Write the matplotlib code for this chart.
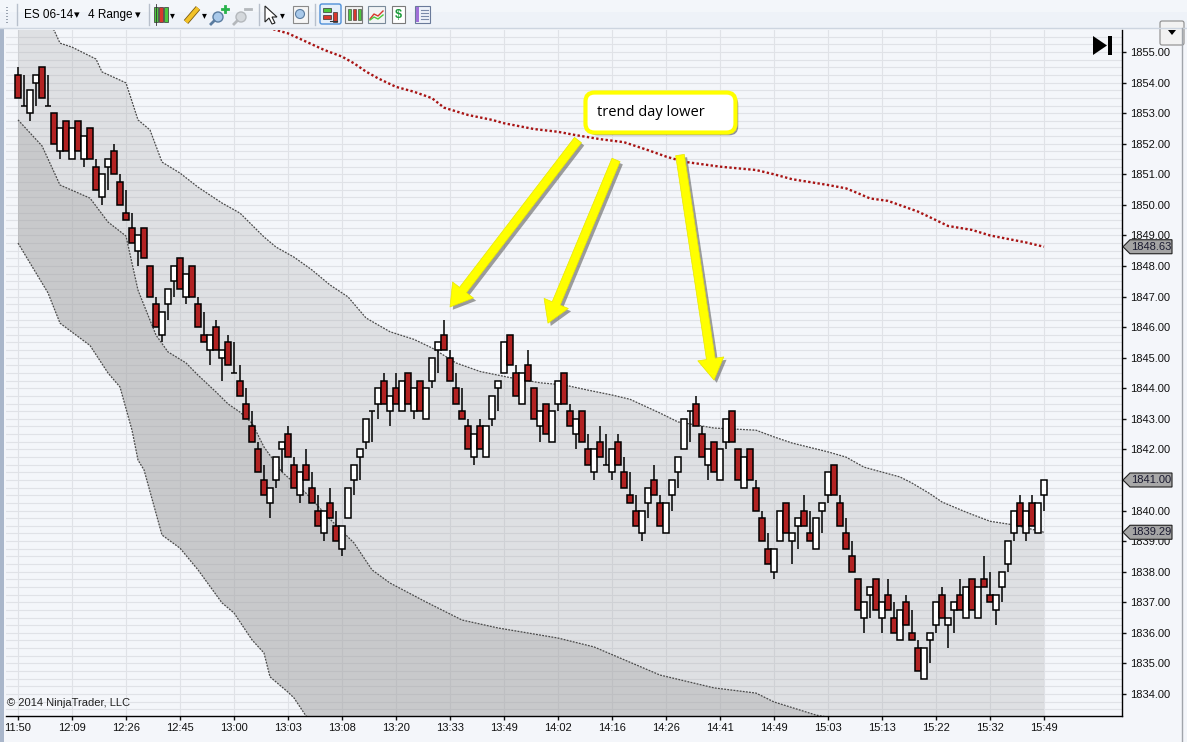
import numpy as np
import matplotlib
matplotlib.use("Agg")
import matplotlib.pyplot as plt
import matplotlib.patheffects as pe
from matplotlib.patches import Rectangle, Polygon, FancyBboxPatch, Circle
from matplotlib.lines import Line2D
from matplotlib.ticker import MultipleLocator, FormatStrFormatter
from matplotlib.transforms import IdentityTransform

plt.rcParams['font.family'] = ['Liberation Sans', 'DejaVu Sans']

# ES 06-14, 4 Range bars
time_labels = ["11:50", "12:09", "12:26", "12:45", "13:00", "13:03", "13:08", "13:20",
               "13:33", "13:49", "14:02", "14:16", "14:26", "14:41", "14:49", "15:03",
               "15:13", "15:22", "15:32", "15:49"]

opens = [1854.25, 1853.25, 1853.0, 1854.0, 1854.5, 1853.25, 1853.0, 1851.75, 1852.75, 1851.5,
         1852.75, 1851.5, 1852.5, 1851.25, 1850.25, 1851.25, 1851.75, 1850.75, 1849.75, 1849.25,
         1848.5, 1849.25, 1848.0, 1846.75, 1845.75, 1846.75, 1847.5, 1848.25, 1847.0, 1848.0,
         1846.75, 1845.75, 1845.25, 1846.0, 1845.0, 1845.5, 1844.5, 1844.25, 1843.5, 1842.75,
         1842.0, 1841.0, 1840.25, 1841.0, 1842.0, 1842.5, 1841.5, 1840.5, 1841.5, 1840.75,
         1840.0, 1839.25, 1840.25, 1839.5, 1838.75, 1839.75, 1841.0, 1841.75, 1842.25, 1843.25,
         1843.5, 1844.25, 1843.25, 1844.0, 1843.25, 1844.5, 1843.25, 1844.25, 1843.0, 1844.25,
         1845.25, 1845.75, 1845.0, 1844.0, 1843.25, 1842.75, 1841.75, 1842.75, 1841.75, 1843.0,
         1844.0, 1844.5, 1845.75, 1844.5, 1843.5, 1844.75, 1844.0, 1842.75, 1843.5, 1842.25,
         1843.5, 1844.5, 1843.25, 1842.5, 1843.25, 1842.0, 1841.25, 1842.25, 1841.5, 1841.25,
         1842.25, 1841.25, 1840.5, 1840.0, 1839.25, 1840.25, 1841.0, 1840.25, 1839.25, 1840.5,
         1841.25, 1842.0, 1843.25, 1843.5, 1842.5, 1841.5, 1842.25, 1841.0, 1842.25, 1843.25,
         1842.0, 1840.75, 1842.0, 1840.75, 1839.75, 1838.75, 1838.0, 1839.0, 1840.25, 1839.0,
         1839.5, 1840.0, 1839.25, 1838.75, 1840.0, 1840.5, 1841.5, 1840.25, 1839.25, 1838.5,
         1837.75, 1836.5, 1837.25, 1837.75, 1836.5, 1837.25, 1836.5, 1835.75, 1837.0, 1836.0,
         1835.5, 1834.5, 1835.75, 1836.25, 1837.25, 1836.25, 1836.75, 1837.25, 1836.5, 1837.75,
         1836.5, 1837.75, 1837.25, 1836.75, 1837.5, 1838.25, 1839.25, 1840.25, 1839.25, 1840.25,
         1839.25, 1840.5]
highs = [1854.5, 1854.25, 1853.75, 1854.25, 1854.5, 1854.25, 1853.0, 1852.5, 1852.75, 1852.5,
         1852.75, 1852.25, 1852.5, 1851.5, 1851.0, 1851.5, 1852.0, 1851.0, 1850.5, 1849.75,
         1849.0, 1849.25, 1848.0, 1847.0, 1846.5, 1847.25, 1848.0, 1848.25, 1847.75, 1848.0,
         1847.0, 1846.5, 1845.75, 1846.25, 1845.25, 1845.75, 1845.5, 1844.75, 1844.0, 1843.25,
         1842.25, 1841.5, 1840.75, 1841.75, 1842.25, 1842.75, 1841.75, 1841.25, 1842.0, 1841.25,
         1840.5, 1840.0, 1840.75, 1840.0, 1839.5, 1840.75, 1841.5, 1842.0, 1843.0, 1843.25,
         1844.0, 1844.5, 1843.75, 1844.5, 1844.25, 1844.5, 1844.0, 1844.25, 1844.0, 1845.0,
         1845.5, 1846.25, 1845.25, 1844.5, 1844.0, 1843.0, 1842.5, 1843.0, 1842.75, 1843.75,
         1844.25, 1845.5, 1845.75, 1844.75, 1844.5, 1845.25, 1844.0, 1843.25, 1843.5, 1843.25,
         1844.25, 1844.5, 1843.5, 1843.0, 1843.25, 1842.5, 1842.0, 1842.75, 1842.5, 1842.0,
         1842.5, 1841.75, 1841.25, 1840.5, 1840.0, 1840.75, 1841.5, 1840.5, 1840.25, 1841.0,
         1841.75, 1843.0, 1843.25, 1843.75, 1842.75, 1842.0, 1842.25, 1842.0, 1843.0, 1843.25,
         1842.0, 1841.75, 1842.0, 1841.0, 1840.0, 1839.25, 1838.75, 1840.0, 1840.25, 1839.25,
         1839.75, 1840.5, 1840.0, 1839.75, 1840.25, 1841.25, 1841.5, 1840.5, 1839.75, 1839.0,
         1837.75, 1837.0, 1837.5, 1837.75, 1837.0, 1837.75, 1837.0, 1836.75, 1837.25, 1836.75,
         1835.75, 1835.5, 1836.0, 1837.0, 1837.5, 1836.5, 1837.0, 1837.75, 1837.5, 1837.75,
         1837.5, 1838.5, 1838.0, 1837.25, 1838.0, 1839.0, 1840.0, 1840.5, 1840.0, 1840.5,
         1840.25, 1841.0]
lows = [1853.5, 1853.25, 1852.75, 1853.25, 1853.5, 1853.25, 1852.0, 1851.5, 1851.75, 1851.5,
        1851.75, 1851.25, 1851.5, 1850.5, 1850.0, 1850.5, 1851.0, 1850.0, 1849.5, 1848.75,
        1848.0, 1848.25, 1847.0, 1846.0, 1845.5, 1846.25, 1847.0, 1847.25, 1846.75, 1847.0,
        1846.0, 1845.5, 1844.75, 1845.25, 1844.25, 1844.75, 1844.5, 1843.75, 1843.0, 1842.25,
        1841.25, 1840.5, 1839.75, 1840.75, 1841.25, 1841.75, 1840.75, 1840.25, 1841.0, 1840.25,
        1839.5, 1839.0, 1839.75, 1839.0, 1838.5, 1839.75, 1840.5, 1841.0, 1842.0, 1842.25,
        1843.0, 1843.5, 1842.75, 1843.5, 1843.25, 1843.5, 1843.0, 1843.25, 1843.0, 1844.0,
        1844.5, 1845.25, 1844.25, 1843.5, 1843.0, 1842.0, 1841.5, 1842.0, 1841.75, 1842.75,
        1843.25, 1844.5, 1844.75, 1843.75, 1843.5, 1844.25, 1843.0, 1842.25, 1842.5, 1842.25,
        1843.25, 1843.5, 1842.75, 1842.0, 1842.25, 1841.5, 1841.0, 1841.75, 1841.5, 1841.0,
        1841.5, 1840.75, 1840.25, 1839.5, 1839.0, 1839.75, 1840.5, 1839.5, 1839.25, 1840.0,
        1840.75, 1842.0, 1842.25, 1842.75, 1841.75, 1841.0, 1841.25, 1841.0, 1842.0, 1842.25,
        1841.0, 1840.75, 1841.0, 1840.0, 1839.0, 1838.25, 1837.75, 1839.0, 1839.25, 1838.25,
        1838.75, 1839.5, 1839.0, 1838.75, 1839.25, 1840.25, 1840.5, 1839.5, 1838.75, 1838.0,
        1836.75, 1836.0, 1836.5, 1836.75, 1836.0, 1836.75, 1836.0, 1835.75, 1836.25, 1835.75,
        1834.75, 1834.5, 1835.0, 1836.0, 1836.5, 1835.5, 1836.0, 1836.75, 1836.5, 1836.75,
        1836.5, 1837.5, 1837.0, 1836.25, 1837.0, 1838.0, 1839.0, 1839.5, 1839.0, 1839.5,
        1839.25, 1840.0]
closes = [1853.5, 1853.25, 1853.75, 1854.25, 1853.5, 1853.25, 1852.0, 1852.5, 1851.75, 1852.5,
          1851.75, 1852.25, 1851.5, 1850.5, 1851.0, 1851.5, 1851.0, 1850.0, 1849.5, 1848.75,
          1849.0, 1848.25, 1847.0, 1846.0, 1846.5, 1847.25, 1848.0, 1847.25, 1847.75, 1847.0,
          1846.0, 1845.5, 1845.75, 1845.25, 1845.25, 1844.75, 1844.5, 1843.75, 1843.0, 1842.25,
          1841.25, 1840.5, 1840.75, 1841.75, 1842.25, 1841.75, 1840.75, 1841.25, 1841.0, 1840.25,
          1839.5, 1840.0, 1839.75, 1839.0, 1839.5, 1840.75, 1841.5, 1842.0, 1843.0, 1843.25,
          1844.0, 1843.5, 1843.75, 1843.5, 1844.25, 1843.5, 1844.0, 1843.25, 1844.0, 1845.0,
          1845.5, 1845.25, 1844.25, 1843.5, 1843.0, 1842.0, 1842.5, 1842.0, 1842.75, 1843.75,
          1844.25, 1845.5, 1844.75, 1843.75, 1844.5, 1844.25, 1843.0, 1843.25, 1842.5, 1843.25,
          1844.25, 1843.5, 1842.75, 1843.0, 1842.25, 1841.5, 1842.0, 1841.75, 1841.5, 1842.0,
          1841.5, 1840.75, 1840.25, 1839.5, 1840.0, 1840.75, 1840.5, 1839.5, 1840.25, 1841.0,
          1841.75, 1843.0, 1843.25, 1842.75, 1841.75, 1842.0, 1841.25, 1842.0, 1843.0, 1842.25,
          1841.0, 1841.75, 1841.0, 1840.0, 1839.0, 1838.25, 1838.75, 1840.0, 1839.25, 1839.25,
          1839.75, 1839.5, 1839.0, 1839.75, 1840.25, 1841.25, 1840.5, 1839.5, 1838.75, 1838.0,
          1836.75, 1837.0, 1837.5, 1836.75, 1837.0, 1836.75, 1836.0, 1836.75, 1836.25, 1835.75,
          1834.75, 1835.5, 1836.0, 1837.0, 1836.5, 1836.5, 1837.0, 1836.75, 1837.5, 1836.75,
          1837.5, 1837.5, 1837.0, 1837.25, 1838.0, 1839.0, 1840.0, 1839.5, 1840.0, 1839.5,
          1840.25, 1841.0]

# VWAP and the lower deviation bands (bar index, price)
vwap_x = [38, 43, 45, 48, 51, 54, 56, 58, 60, 63, 66, 69, 71, 75, 79, 81, 86, 90, 93, 97, 101,
          105, 108, 111, 117, 123, 126, 129, 135, 138, 140, 142, 145, 147, 150, 153, 155, 159,
          162, 168, 171]
vwap = [1856.0, 1855.72, 1855.61, 1855.34, 1855.07, 1854.85, 1854.63, 1854.36, 1854.14, 1853.86,
        1853.70, 1853.49, 1853.18, 1852.94, 1852.78, 1852.67, 1852.48, 1852.39, 1852.28, 1852.15,
        1852.05, 1851.79, 1851.58, 1851.41, 1851.25, 1851.14, 1851.00, 1850.84, 1850.65, 1850.54,
        1850.38, 1850.21, 1850.13, 1849.99, 1849.78, 1849.50, 1849.31, 1849.18, 1849.00, 1848.77,
        1848.63]

band1_x = [0, 3, 6, 7, 9, 13, 14, 18, 20, 22, 24, 27, 30, 34, 37, 41, 43, 46, 49, 52, 55, 58,
           62, 66, 69, 73, 77, 82, 87, 91, 95, 99, 102, 107, 110, 116, 123, 126, 129, 135, 138,
           141, 144, 147, 149, 152, 154, 158, 162, 166, 171]
band1 = [1856.4, 1856.0, 1855.72, 1855.29, 1855.16, 1854.77, 1854.35, 1853.99, 1852.78, 1852.45,
         1851.40, 1851.04, 1850.58, 1850.06, 1849.73, 1848.95, 1848.62, 1848.29, 1847.87, 1847.38,
         1846.99, 1846.30, 1845.85, 1845.60, 1845.32, 1844.83, 1844.55, 1844.35, 1844.18, 1844.11,
         1843.94, 1843.78, 1843.64, 1843.19, 1842.90, 1842.70, 1842.63, 1842.41, 1842.21, 1841.92,
         1841.75, 1841.42, 1841.26, 1841.10, 1840.90, 1840.55, 1840.28, 1839.95, 1839.65, 1839.53,
         1839.29]

band2_x = [0, 4, 7, 12, 15, 18, 20, 23, 25, 28, 30, 33, 35, 37, 39, 41, 44, 48, 52, 56, 59, 62,
           68, 74, 80, 90, 96, 107, 116, 123, 126, 133, 145, 158, 171]
band2 = [1852.78, 1851.93, 1850.65, 1850.22, 1849.44, 1848.98, 1847.21, 1845.74, 1845.19, 1844.83,
         1844.43, 1843.88, 1843.49, 1843.22, 1842.86, 1842.08, 1841.26, 1840.57, 1839.72, 1838.94,
         1838.06, 1837.63, 1837.01, 1836.42, 1836.16, 1835.83, 1835.54, 1834.62, 1834.20, 1834.03,
         1833.74, 1833.31, 1832.9, 1832.5, 1832.2]

band3_x = [0, 5, 7, 12, 15, 17, 19, 20, 21, 24, 27, 30, 34, 36, 39, 41, 42, 45, 46, 48, 60, 80,
           120, 171]
band3 = [1848.75, 1847.12, 1846.13, 1845.40, 1844.50, 1844.04, 1842.63, 1841.65, 1841.33, 1839.20,
         1838.77, 1838.06, 1836.98, 1836.65, 1835.77, 1835.34, 1834.56, 1834.06, 1833.87, 1833.28,
         1831.6, 1830.2, 1829.0, 1827.8]

W, H = 1187, 742
BG = '#f4f6fa'
GRID = '#e0e2e7'
DOWN = '#b22222'

fig = plt.figure(figsize=(W / 100, H / 100), dpi=100, facecolor=BG)
ax = fig.add_axes([6 / W, 26 / H, 1116 / W, 686 / H])
ax.set_facecolor(BG)
ax.set_xlim(-2, 184)
ax.set_ylim(1833.28, 1855.72)

# grid
ax.set_axisbelow(True)
ax.yaxis.set_major_locator(MultipleLocator(1.0))
ax.yaxis.set_minor_locator(MultipleLocator(0.25))
ax.yaxis.set_major_formatter(FormatStrFormatter('%.2f'))
ax.grid(which='both', axis='y', color=GRID, lw=0.8)
ax.grid(which='major', axis='x', color=GRID, lw=0.8)

# bands
light = np.concatenate([np.column_stack([band1_x, band1]),
                        np.column_stack([band2_x, band2])[::-1]])
dark = np.concatenate([np.column_stack([band2_x, band2]),
                       np.column_stack([band3_x, band3])[::-1]])
ax.add_patch(Polygon(light, closed=True, fc='#a0a0a0', alpha=0.25, ec='none', zorder=1))
ax.add_patch(Polygon(dark, closed=True, fc='#a0a0a0', alpha=0.52, ec='none', zorder=1))
for bx, by in [(band1_x, band1), (band2_x, band2), (band3_x, band3)]:
    ax.plot(bx, by, color='#4a4a4a', lw=0.9, ls=(0, (1.5, 1)), zorder=2)

ax.plot(vwap_x, vwap, color='#a81414', lw=1.7, ls=(0, (1, 1)), zorder=2)

# candles
x = np.arange(len(opens))
o = np.array(opens)
c = np.array(closes)
ax.vlines(x, lows, highs, color='black', lw=1.1, zorder=3)
ax.bar(x, c - o, bottom=o, width=0.85, color=np.where(c >= o, 'white', DOWN),
       edgecolor='black', linewidth=1.1, zorder=4)

# axes
ax.set_xticks(np.arange(0, len(opens), 9))
ax.set_xticklabels(time_labels)
ax.yaxis.tick_right()
ax.tick_params(axis='x', direction='out', length=3, width=1, pad=2, labelsize=8, colors='#111111')
ax.tick_params(axis='y', which='major', direction='out', length=3, width=1, pad=3, labelsize=8,
               colors='#111111')
ax.tick_params(axis='y', which='minor', length=0)
for s in ['left', 'top']:
    ax.spines[s].set_visible(False)
for s in ['right', 'bottom']:
    ax.spines[s].set_color('black')
    ax.spines[s].set_linewidth(1.0)

ax.text(0.001, 0.012, '\u00a9 2014 NinjaTrader, LLC', transform=ax.transAxes, fontsize=8,
        color='#222222', ha='left', va='bottom')

# annotation
fig.canvas.draw()
T = IdentityTransform()
cx, cy = ax.transData.transform((107.08, 1853.02))
box = FancyBboxPatch((cx - 75, cy - 20), 150, 40, boxstyle='round,pad=0,rounding_size=9',
                     transform=T, fc='white', ec='#ffff00', lw=3.0, zorder=8)
box.set_path_effects([pe.SimplePatchShadow(offset=(2, -2), shadow_rgbFace='#555555', alpha=0.6),
                      pe.Normal()])
ax.add_patch(box)
ax.text(105.5, 1853.02, 'trend day lower', ha='center', va='center', fontsize=10.5,
        family=['Open Sans', 'DejaVu Sans'], color='black', zorder=9)

arrows = [((93.33, 1852.12), (72.0, 1846.66)),
          ((99.67, 1851.47), (88.33, 1846.13)),
          ((110.33, 1851.63), (116.0, 1844.27))]
for start, tip in arrows:
    ann = ax.annotate('', xy=tip, xytext=start, zorder=7,
                      arrowprops=dict(arrowstyle='simple,head_length=1.1,head_width=1.35,tail_width=0.45',
                                      fc='#ffff00', ec='#e8e800', lw=0.5, mutation_scale=14,
                                      shrinkA=0, shrinkB=0))
    ann.arrow_patch.set_path_effects([pe.SimplePatchShadow(offset=(2, -2), shadow_rgbFace='#606060',
                                                           alpha=0.6), pe.Normal()])


# price markers on the right axis
def price_marker(value, face):
    yd = ax.transData.transform((0, value))[1]
    pts = [(1123, yd), (1130, yd + 7), (1172, yd + 7), (1172, yd - 7), (1130, yd - 7)]
    fig.add_artist(Polygon(pts, closed=True, transform=T, fc=face, ec='#202020', lw=0.8, zorder=10))
    fig.text(1131, yd, f'{value:.2f}', transform=T, fontsize=8, color='#1a1a30', ha='left',
             va='center', zorder=11)


price_marker(vwap[-1], '#a4a4a4')
price_marker(band1[-1], '#a4a4a4')
price_marker(closes[-1], '#a8a8a8')


# ---- window chrome (pixel coordinates, y from top) ----
def rect(x0, y0, x1, y1, **kw):
    fig.add_artist(Rectangle((x0, H - y1), x1 - x0, y1 - y0, transform=T, **kw))


def line(xs, ys, **kw):
    fig.add_artist(Line2D(xs, [H - v for v in ys], transform=T, **kw))


def label(xp, yp, s, **kw):
    fig.text(xp, H - yp, s, transform=T, va='center', **kw)


rect(0, 0, W, 28, fc='#eef2f8', ec='none')
rect(0, 0, W, 12, fc='#f3f6fa', ec='none')
line([0, W], [28, 28], color='#cdd5e0', lw=1)
rect(0, 28, 4, H, fc='#a9b6ca', ec='none')
line([1182, 1182], [28, H], color='#a0a4aa', lw=1)

for yy in range(7, 24, 3):
    rect(6, yy, 8, yy + 1, fc='#9aa3b0', ec='none')
for sx in [17, 149, 259, 315]:
    line([sx, sx], [4, 25], color='#b8c0cc', lw=1)

label(24, 15, 'ES 06-14', fontsize=8.5, color='black')
label(74, 15, '\u25be', fontsize=8, color='black', family='DejaVu Sans')
label(88, 15, '4 Range', fontsize=8.5, color='black')
label(135, 15, '\u25be', fontsize=8, color='black', family='DejaVu Sans')

# candle style icon
for xx, col in [(154, '#4cc83c'), (159, '#d8382c'), (164, '#4cc83c')]:
    rect(xx, 7, xx + 4, 22, fc=col, ec='#333333', lw=0.5)
line([156, 156], [4, 25], color='#333333', lw=0.6)
label(170, 15, '\u25be', fontsize=7, color='black', family='DejaVu Sans')
# pencil
line([186, 198], [22, 8], color='#7a5a10', lw=4.2, solid_capstyle='butt')
line([186, 198], [22, 8], color='#f2c227', lw=3.0, solid_capstyle='butt')
label(202, 15, '\u25be', fontsize=7, color='black', family='DejaVu Sans')
# zoom in / out
fig.add_artist(Circle((218, H - 17), 5, transform=T, fc='#a9c9ea', ec='#5a7ca0', lw=1))
line([214, 211], [21, 24], color='#5a7ca0', lw=2)
line([222, 228], [9, 9], color='#27b24a', lw=2)
line([225, 225], [6, 12], color='#27b24a', lw=2)
fig.add_artist(Circle((241, H - 17), 5, transform=T, fc='#d4d8dc', ec='#b4b8bc', lw=1))
line([237, 234], [21, 24], color='#b4b8bc', lw=2)
line([245, 251], [9, 9], color='#b4b8bc', lw=2)
# pointer
fig.add_artist(Polygon([(265, H - 6), (265, H - 22), (269, H - 18), (272, H - 24), (275, H - 23),
                        (272, H - 17), (277, H - 17)], closed=True, transform=T,
                       fc='white', ec='#222222', lw=0.8))
label(280, 15, '\u25be', fontsize=7, color='black', family='DejaVu Sans')
# magnifier
rect(293, 6, 308, 23, fc='#f6f6f6', ec='#8a8a8a', lw=0.8)
fig.add_artist(Circle((300, H - 14), 4.5, transform=T, fc='#a9c9ea', ec='#5a7ca0', lw=0.8))
# highlighted button
fig.add_artist(FancyBboxPatch((320, H - 24), 21, 20, boxstyle='round,pad=0,rounding_size=2',
                              transform=T, fc='#e6effa', ec='#4f90d8', lw=1))
rect(323, 8, 331, 12, fc='#4cc83c', ec='#333333', lw=0.5)
rect(323, 15, 331, 19, fc='#d8382c', ec='#333333', lw=0.5)
rect(333, 12, 337, 22, fc='#d8382c', ec='#333333', lw=0.5)
line([330, 337], [21, 21], color='#333333', lw=0.8)
# bars icon
rect(345, 6, 362, 23, fc='#f2f2f2', ec='#7a7a7a', lw=0.8)
for xx, col in [(348, '#4cc83c'), (353, '#d8382c'), (358, '#4cc83c')]:
    rect(xx, 9, xx + 3, 20, fc=col, ec='#333333', lw=0.4)
# chart icon
rect(368, 6, 385, 23, fc='#f2f4f6', ec='#7a8a9a', lw=0.8)
line([370, 374, 378, 383], [19, 14, 16, 11], color='#d8382c', lw=1)
line([370, 374, 378, 383], [20, 17, 19, 15], color='#4cc83c', lw=1)
# document icon
rect(392, 6, 405, 23, fc='white', ec='#7a7a7a', lw=0.8)
label(398.5, 15, '$', fontsize=9, color='#1a9a3a', ha='center', weight='bold')
# window icon
rect(415, 6, 430, 23, fc='#eef2fa', ec='#6a7a9a', lw=0.8)
rect(416, 7, 419, 22, fc='#a070d8', ec='none')
for yy in [10, 13, 16, 19]:
    line([421, 428], [yy, yy], color='#7a8aaa', lw=0.8)

# scroll-to-end icon and dropdown at the top right
fig.add_artist(Polygon([(1093, H - 36), (1093, H - 55), (1107, H - 45.5)], closed=True,
                       transform=T, fc='black', ec='none'))
rect(1108, 36, 1112, 55, fc='black', ec='none')
fig.add_artist(FancyBboxPatch((1160, H - 45), 24, 24, boxstyle='round,pad=0,rounding_size=2',
                              transform=T, fc='#f2f2f2', ec='#8a8a8a', lw=0.8))
fig.add_artist(Polygon([(1168, H - 30), (1176, H - 30), (1172, H - 35)], closed=True,
                       transform=T, fc='black', ec='none'))

fig.savefig('out.png', dpi=100, facecolor=fig.get_facecolor())
